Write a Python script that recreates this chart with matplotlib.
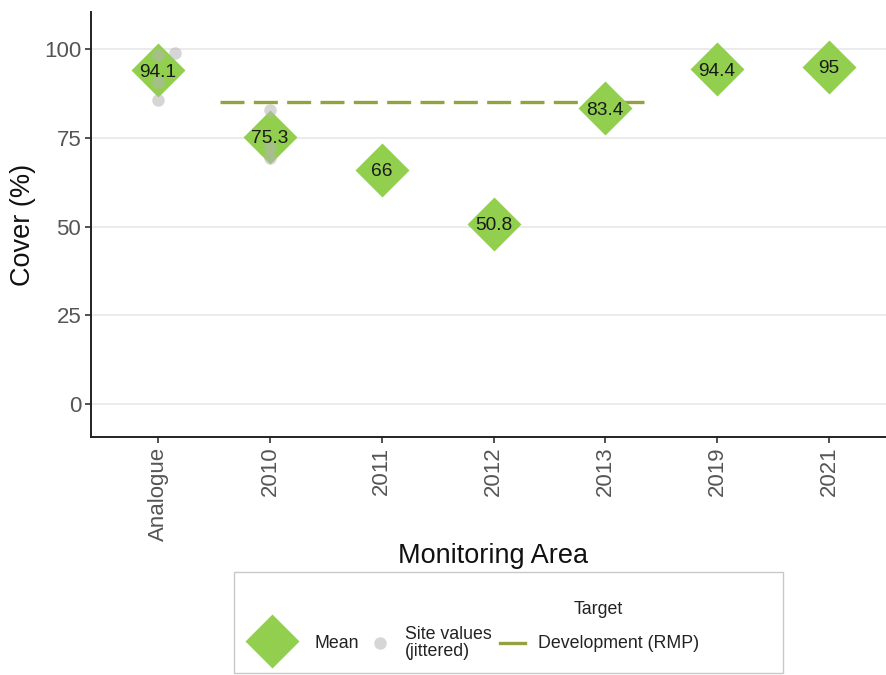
import matplotlib.pyplot as plt
from matplotlib.lines import Line2D
from matplotlib.patches import Rectangle

plt.rcParams['font.family'] = ['Liberation Sans', 'DejaVu Sans']

# data
areas = ['Analogue', '2010', '2011', '2012', '2013', '2019', '2021']
means = [94.1, 75.3, 66, 50.8, 83.4, 94.4, 95]
mean_labels = ['94.1', '75.3', '66', '50.8', '83.4', '94.4', '95']
site_area = ['Analogue', 'Analogue', 'Analogue', 'Analogue', '2010', '2010', '2010']
site_values = [98.3, 98.9, 90.7, 85.6, 82.8, 72.1, 69.3]
site_jitter = [0.0, 0.15, 0.0, 0.0, 0.0, 0.0, 0.0]
target_value = 85
target_start = 0.55
target_end = 4.4

green = '#92cf4f'
olive = '#94a13e'
W, H = 886, 675

fig = plt.figure(figsize=(W / 100, H / 100), dpi=100)
ax = fig.add_axes([91 / W, 1 - 437 / H, (896 - 91) / W, (437 - 12) / H])

xpos = list(range(len(areas)))
ax.plot([target_start, target_end], [target_value, target_value], color=olive,
        lw=2.4, ls=(0, (7.2, 2.8)), zorder=2)
ax.plot(xpos, means, ls='none', marker='D', ms=27, color=green, mec='none', zorder=3)
sx = [areas.index(a) + j for a, j in zip(site_area, site_jitter)]
ax.plot(sx, site_values, ls='none', marker='o', ms=9, color='#b5b5b5', alpha=0.55,
        mec='none', zorder=4)
for x, m, lab in zip(xpos, means, mean_labels):
    ax.text(x, m, lab, ha='center', va='center_baseline', fontsize=13.8, color='#1a1a1a', zorder=5)

ax.set_xlim(-0.6, len(areas) - 0.4)
ax.set_ylim(-9.3, 110.5)
ax.set_yticks([0, 25, 50, 75, 100])
ax.set_xticks(xpos)
ax.set_xticklabels(areas, rotation=90)
ax.grid(axis='y', color='#e6e6e6', lw=1.1)
ax.set_axisbelow(True)
for s in ['top', 'right']:
    ax.spines[s].set_visible(False)
for s in ['left', 'bottom']:
    ax.spines[s].set_color('#222222')
    ax.spines[s].set_linewidth(1.4)
ax.tick_params(colors='#222222', labelcolor='#555555', labelsize=16, length=4, width=1.1, pad=3)
ax.set_xlabel('Monitoring Area', fontsize=19.5, color='#111111')
ax.xaxis.set_label_coords(0.5, -0.25)
ax.set_ylabel('Cover (%)', fontsize=19.5, color='#111111', labelpad=6)


def fx(px):
    return px / W


def fy(py):
    return 1 - py / H


# legend drawn by hand
fig.patches.append(Rectangle((fx(234), fy(673)), (783 - 234) / W, (673 - 572) / H,
                             transform=fig.transFigure, fc='white', ec='#c8c8c8', lw=1))
fig.lines.append(Line2D([fx(272)], [fy(641)], transform=fig.transFigure, ls='none',
                        marker='D', ms=27, color=green, mec='none'))
fig.text(fx(315), fy(643), 'Mean', fontsize=12.8, va='center', color='#222222')
fig.lines.append(Line2D([fx(380)], [fy(643)], transform=fig.transFigure, ls='none',
                        marker='o', ms=9, color='#b5b5b5', alpha=0.55, mec='none'))
fig.text(fx(405), fy(643), 'Site values\n(jittered)', fontsize=12.8, va='center',
         linespacing=0.95, color='#222222')
fig.lines.append(Line2D([fx(500), fx(525)], [fy(643), fy(643)], transform=fig.transFigure,
                        color=olive, lw=2.4))
fig.text(fx(538), fy(643), 'Development (RMP)', fontsize=12.8, va='center', color='#222222')
fig.text(fx(598), fy(610), 'Target', fontsize=12.8, ha='center', va='center', color='#222222')

fig.savefig('out.png', dpi=100)
